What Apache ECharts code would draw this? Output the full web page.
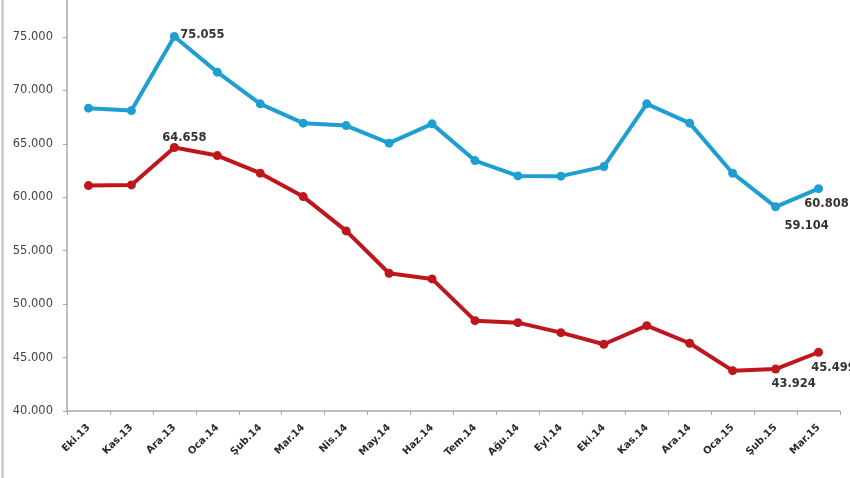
<!DOCTYPE html>
<html>
<head>
<meta charset="utf-8">
<script src="https://cdn.jsdelivr.net/npm/echarts@6/dist/echarts.min.js"></script>
<style>html,body{margin:0;padding:0;background:#fff}#c{width:850px;height:478px}</style>
</head>
<body>
<div id="c"></div>
<script>
const categories = ["Eki.13","Kas.13","Ara.13","Oca.14","Şub.14","Mar.14","Nis.14","May.14","Haz.14","Tem.14","Ağu.14","Eyl.14","Eki.14","Kas.14","Ara.14","Oca.15","Şub.15","Mar.15"];
const blueSeries = [68342,68117,75055,71713,68744,66937,66713,65065,66872,63436,62003,61980,62874,68744,66937,62256,59104,60808];
const redSeries  = [61095,61160,64658,63904,62256,60065,56853,52893,52359,48455,48268,47331,46245,47987,46339,43773,43924,45499];
const yMin = 40000, yMax = 78464, yStep = 5000;

function fmt(v){ return (v/1000).toFixed(3); }

const lblBase = {show:true, position:'inside', fontFamily:'DejaVu Sans', fontSize:11.5, fontWeight:'bold', color:'#333', formatter:p=>fmt(p.value)};
function labelled(data, specs){
  return data.map((v,i)=>{
    if (specs[i]) return {value:v, label:Object.assign({}, lblBase, specs[i])};
    return v;
  });
}

const chart = echarts.init(document.getElementById('c'), null, {renderer:'canvas'});
chart.setOption({
  animation:false,
  backgroundColor:'#fff',
  grid:{left:67, right:10, top:0, bottom:67, containLabel:false},
  xAxis:{
    type:'category', data:categories, boundaryGap:true,
    axisLine:{lineStyle:{color:'#a8a8a8', width:1.5}},
    axisTick:{show:true, length:4, lineStyle:{color:'#a8a8a8'}},
    axisLabel:{rotate:45, fontFamily:'DejaVu Sans', fontSize:10, fontWeight:'bold', color:'#2a2a2a', margin:15, interval:0}
  },
  yAxis:{
    type:'value', min:yMin, max:yMax, interval:yStep,
    splitLine:{show:false},
    axisLine:{show:true, lineStyle:{color:'#a8a8a8', width:1.5}},
    axisTick:{show:true, length:4, lineStyle:{color:'#a8a8a8'}},
    axisLabel:{formatter:v=>fmt(v), showMaxLabel:false, fontFamily:'DejaVu Sans', fontSize:11.5, color:'#444', margin:14}
  },
  graphic:[{type:'line', shape:{x1:2.5,y1:0,x2:2.5,y2:478}, style:{stroke:'#c0c0c0', lineWidth:2}}],
  series:[
    {
      name:'blue', type:'line', data:labelled(blueSeries, {
        2:{offset:[28,-1]},
        16:{offset:[31,19]},
        17:{offset:[8,15]}
      }),
      symbol:'circle', symbolSize:9,
      lineStyle:{color:'#1f9fd1', width:4},
      itemStyle:{color:'#1f9fd1'}
    },
    {
      name:'red', type:'line', data:labelled(redSeries, {
        2:{offset:[10,-10]},
        16:{offset:[18,15]},
        17:{offset:[15,16]}
      }),
      symbol:'circle', symbolSize:9,
      lineStyle:{color:'#bd171d', width:4},
      itemStyle:{color:'#bd171d'}
    }
  ]
});
</script>
</body>
</html>
